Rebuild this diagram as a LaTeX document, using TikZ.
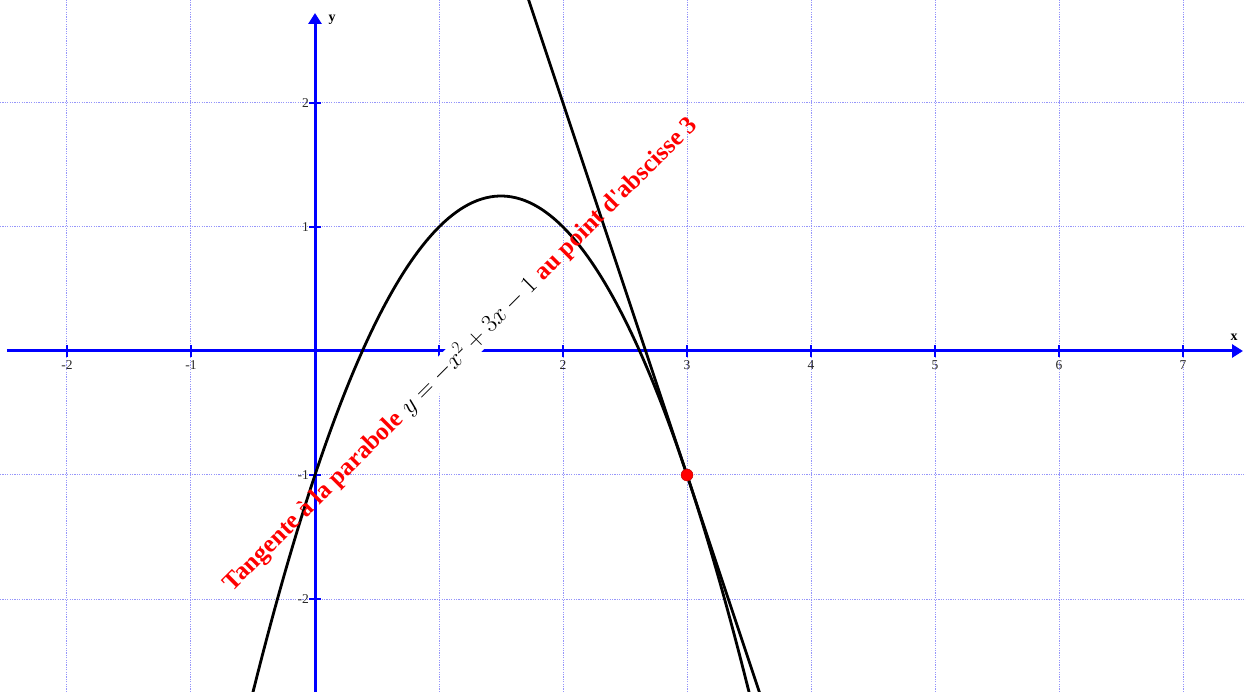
\documentclass[tikz,border=0pt]{standalone}
\usepackage{fontspec}
\setmainfont{Liberation Serif}
\usetikzlibrary{arrows.meta}
\definecolor{gridblue}{RGB}{150,150,250}
\definecolor{axisblue}{RGB}{0,0,255}
\definecolor{labgray}{RGB}{40,40,40}
\begin{document}
\begin{tikzpicture}[x=124pt,y=124pt,
  gridline/.style={gridblue,line width=1pt,dash pattern=on 1.2pt off 1.2pt},
  axisline/.style={axisblue,line width=3pt,-{Triangle[width=13pt,length=11pt]}},
  tickmark/.style={axisblue,line width=1.4pt},
  ticklab/.style={font=\fontsize{13.5}{13.5}\selectfont,text=labgray,inner sep=1pt},
  axislab/.style={font=\fontsize{14}{14}\selectfont\bfseries,inner sep=1pt},
  curve/.style={black,line width=2.8pt},
  title/.style={red,font=\fontsize{25}{25}\selectfont\bfseries,rotate=45,inner sep=0pt}]
\useasboundingbox (-315pt,-341pt) rectangle (931pt,351pt);
\fill[white] (-315pt,-341pt) rectangle (931pt,351pt);
\begin{scope}
\clip (-315pt,-341pt) rectangle (931pt,351pt);
% grid
\foreach \i in {-2,-1,1,2,3,4,5,6,7}
  \draw[gridline] (\i,-341pt) -- (\i,351pt);
\foreach \j in {-2,-1,1,2}
  \draw[gridline] (-315pt,\j) -- (931pt,\j);
% axes
\coordinate (xs) at (-308pt,0);
\coordinate (xe) at (928pt,0);
\coordinate (ys) at (0,-341pt);
\coordinate (ye) at (0,338pt);
\draw[axisline] (xs) -- (xe);
\draw[axisline] (ys) -- (ye);
% ticks and labels
\foreach \i in {-2,-1,1,2,3,4,5,6,7} {
  \draw[tickmark] (\i,-6pt) -- (\i,6pt);
  \node[ticklab] (tx\i) at (\i,-14pt) {\i};
}
\foreach \j in {-2,-1,1,2} {
  \draw[tickmark] (-6pt,\j) -- (6pt,\j);
  \node[ticklab,anchor=east] (ty\j) at (-5pt,\j) {\j};
}
\node[axislab] (xlab) at (919pt,14pt) {x};
\node[axislab] (ylab) at (17pt,331pt) {y};
% parabola and tangent
\draw[curve,smooth] plot[domain=-0.55:3.55,samples=120] (\x,{-\x*\x+3*\x-1});
\draw[curve] plot[domain=1.65:3.65,samples=2] (\x,{-3*\x+8});
\end{scope}
% point
\node[circle,fill=red,draw=red!70!black,line width=0.4pt,minimum size=12pt,inner sep=0pt] (M) at (3,-1) {};
% title
\node[title] (T) at (145pt,-3pt) {Tangente à la parabole {\fboxsep=1pt\colorbox{white}{\color{black}\mdseries$y=-x^2+3x-1$}} au point d\textquotesingle abscisse 3};
\end{tikzpicture}
\end{document}
